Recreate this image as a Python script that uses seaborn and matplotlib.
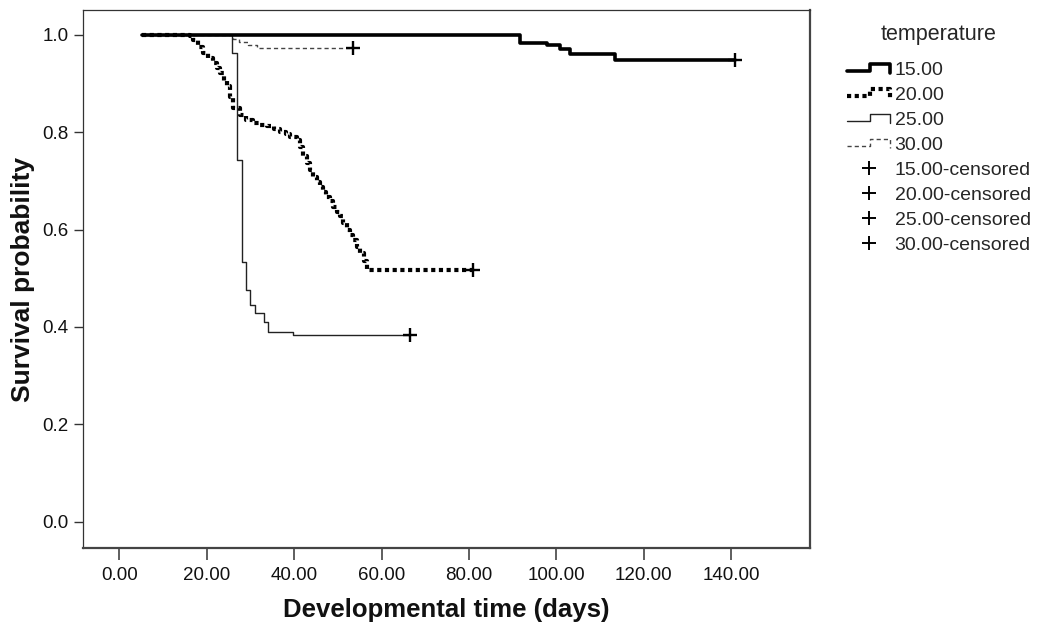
import numpy as np
import pandas as pd
import matplotlib
matplotlib.use("Agg")
import matplotlib.pyplot as plt
import seaborn as sns
from matplotlib.lines import Line2D
from matplotlib.legend_handler import HandlerBase
from matplotlib.ticker import FormatStrFormatter

# ---------------- data ----------------
groups = ["15.00", "20.00", "25.00", "30.00"]

time_15 = [5.1, 91.7, 97.8, 100.8, 103.1, 113.4, 140.9]
surv_15 = [1.0, 0.984, 0.979, 0.971, 0.960, 0.949, 0.949]

time_20 = [5.1, 16.2, 16.9, 18.0, 19.2, 20.3, 21.5, 22.3, 23.0, 24.0, 24.6, 25.3,
           26.1, 27.6, 29.0, 30.7, 32.3, 33.7, 35.3, 36.8, 38.2, 39.1, 40.6, 41.3,
           42.1, 42.9, 43.7, 44.4, 45.2, 45.9, 46.7, 47.4, 48.2, 49.0, 49.8, 50.5,
           51.2, 52.0, 52.8, 53.5, 54.3, 55.1, 55.9, 56.6, 81.0]
surv_20 = [1.0, 0.997, 0.990, 0.976, 0.962, 0.952, 0.942, 0.932, 0.921, 0.905, 0.894, 0.873,
           0.849, 0.836, 0.826, 0.818, 0.815, 0.812, 0.806, 0.801, 0.796, 0.791, 0.784, 0.770,
           0.752, 0.736, 0.722, 0.709, 0.698, 0.688, 0.678, 0.668, 0.658, 0.647, 0.637, 0.627,
           0.613, 0.599, 0.589, 0.579, 0.565, 0.551, 0.535, 0.517, 0.517]

time_25 = [5.1, 25.9, 26.9, 28.0, 28.9, 29.9, 31.1, 33.0, 34.1, 39.8, 66.5]
surv_25 = [1.0, 0.962, 0.743, 0.534, 0.476, 0.445, 0.428, 0.411, 0.390, 0.383, 0.383]

time_30 = [5.1, 26.1, 27.5, 29.5, 31.4, 53.5]
surv_30 = [1.0, 0.992, 0.985, 0.979, 0.974, 0.974]

# censored observations (last follow-up of each group)
censor_time = [140.9, 81.0, 66.5, 53.5]
censor_surv = [0.949, 0.517, 0.383, 0.974]

x_ticks = [0, 20, 40, 60, 80, 100, 120, 140]
y_ticks = [0.0, 0.2, 0.4, 0.6, 0.8, 1.0]

# ---------------- styling ----------------
sns.set_theme(style="white")
plt.rcParams['font.family'] = ['Liberation Sans', 'DejaVu Sans']

styles = {
    "15.00": dict(color="black", linewidth=2.6, linestyle="-", zorder=5),
    "20.00": dict(color="black", linewidth=3.0, linestyle=(0, (1.0, 0.85)), zorder=4),
    "25.00": dict(color="#222222", linewidth=1.0, linestyle="-", zorder=3),
    "30.00": dict(color="#444444", linewidth=1.0, linestyle=(0, (3, 2.2)), zorder=3),
}
series = {
    "15.00": (time_15, surv_15),
    "20.00": (time_20, surv_20),
    "25.00": (time_25, surv_25),
    "30.00": (time_30, surv_30),
}

fig, ax = plt.subplots(figsize=(10.38, 6.28), dpi=100)
fig.subplots_adjust(left=0.0795, right=0.7803, bottom=0.1274, top=0.984)

for g in ["30.00", "25.00", "20.00", "15.00"]:
    t, s = series[g]
    df = pd.DataFrame({"time": t, "surv": s})
    st = styles[g]
    sns.lineplot(data=df, x="time", y="surv", ax=ax, drawstyle="steps-post",
                 estimator=None, sort=False, color=st["color"],
                 linewidth=st["linewidth"], linestyle=st["linestyle"],
                 zorder=st["zorder"])

cdf = pd.DataFrame({"time": censor_time, "surv": censor_surv})
sns.scatterplot(data=cdf, x="time", y="surv", ax=ax, marker="+", s=110,
                color="black", linewidth=1.7, zorder=6)

ax.set_xlim(-8.4, 158.0)
ax.set_ylim(-0.054, 1.051)
ax.set_xticks(x_ticks)
ax.set_yticks(y_ticks)
ax.xaxis.set_major_formatter(FormatStrFormatter('%.2f'))
ax.yaxis.set_major_formatter(FormatStrFormatter('%.1f'))

ax.tick_params(axis='x', bottom=True, direction='out', length=8.6, width=1.1,
               color='#333333', pad=5.0, labelsize=13.5, labelcolor='#111111')
ax.tick_params(axis='y', left=True, direction='out', length=6.5, width=1.0,
               color='#333333', pad=3.6, labelsize=13.5, labelcolor='#111111')

for side in ["left", "top"]:
    ax.spines[side].set_color('#333333')
    ax.spines[side].set_linewidth(0.9)
for side in ["right", "bottom"]:
    ax.spines[side].set_color('#444444')
    ax.spines[side].set_linewidth(1.6)

ax.set_xlabel("Developmental time (days)", fontsize=18.5, fontweight='bold',
              labelpad=10.5, color='#111111')
ax.set_ylabel("Survival probability", fontsize=19, fontweight='bold',
              labelpad=5, color='#111111')


# ---------------- legend with step-shaped handles ----------------
class StepHandler(HandlerBase):
    def __init__(self, style, **kw):
        super().__init__(**kw)
        self.style = style

    def create_artists(self, legend, orig_handle, xdescent, ydescent,
                       width, height, fontsize, trans):
        x0, y0 = -xdescent, -ydescent
        xs = [x0, x0 + 0.52 * width, x0 + 0.52 * width, x0 + 0.97 * width, x0 + 0.97 * width]
        ys = [y0 + 0.28 * height, y0 + 0.28 * height, y0 + 0.86 * height,
              y0 + 0.86 * height, y0 + 0.16 * height]
        ln = Line2D(xs, ys, color=self.style["color"],
                    linewidth=self.style["linewidth"],
                    linestyle=self.style["linestyle"])
        ln.set_transform(trans)
        return [ln]


line_handles = []
hmap = {}
for g in groups:
    st = styles[g]
    h = Line2D([], [], color=st["color"], linewidth=st["linewidth"],
               linestyle=st["linestyle"])
    line_handles.append(h)
    hmap[h] = StepHandler(st)
cens_handles = [Line2D([], [], color="black", marker="+", linestyle="None",
                       markersize=10.5, markeredgewidth=1.4) for _ in groups]

handles = line_handles + cens_handles
labels = groups + [g + "-censored" for g in groups]

leg = ax.legend(handles, labels, handler_map=hmap, loc='upper left',
                bbox_to_anchor=(847 / 1038, 1 - 24 / 628),
                bbox_transform=fig.transFigure, frameon=False, fontsize=14,
                title='temperature', title_fontsize=15.5, handlelength=2.3,
                handletextpad=0.15, labelspacing=0.38, borderpad=0,
                borderaxespad=0)
leg._legend_box.sep = 12

fig.savefig("out.png", dpi=100)
